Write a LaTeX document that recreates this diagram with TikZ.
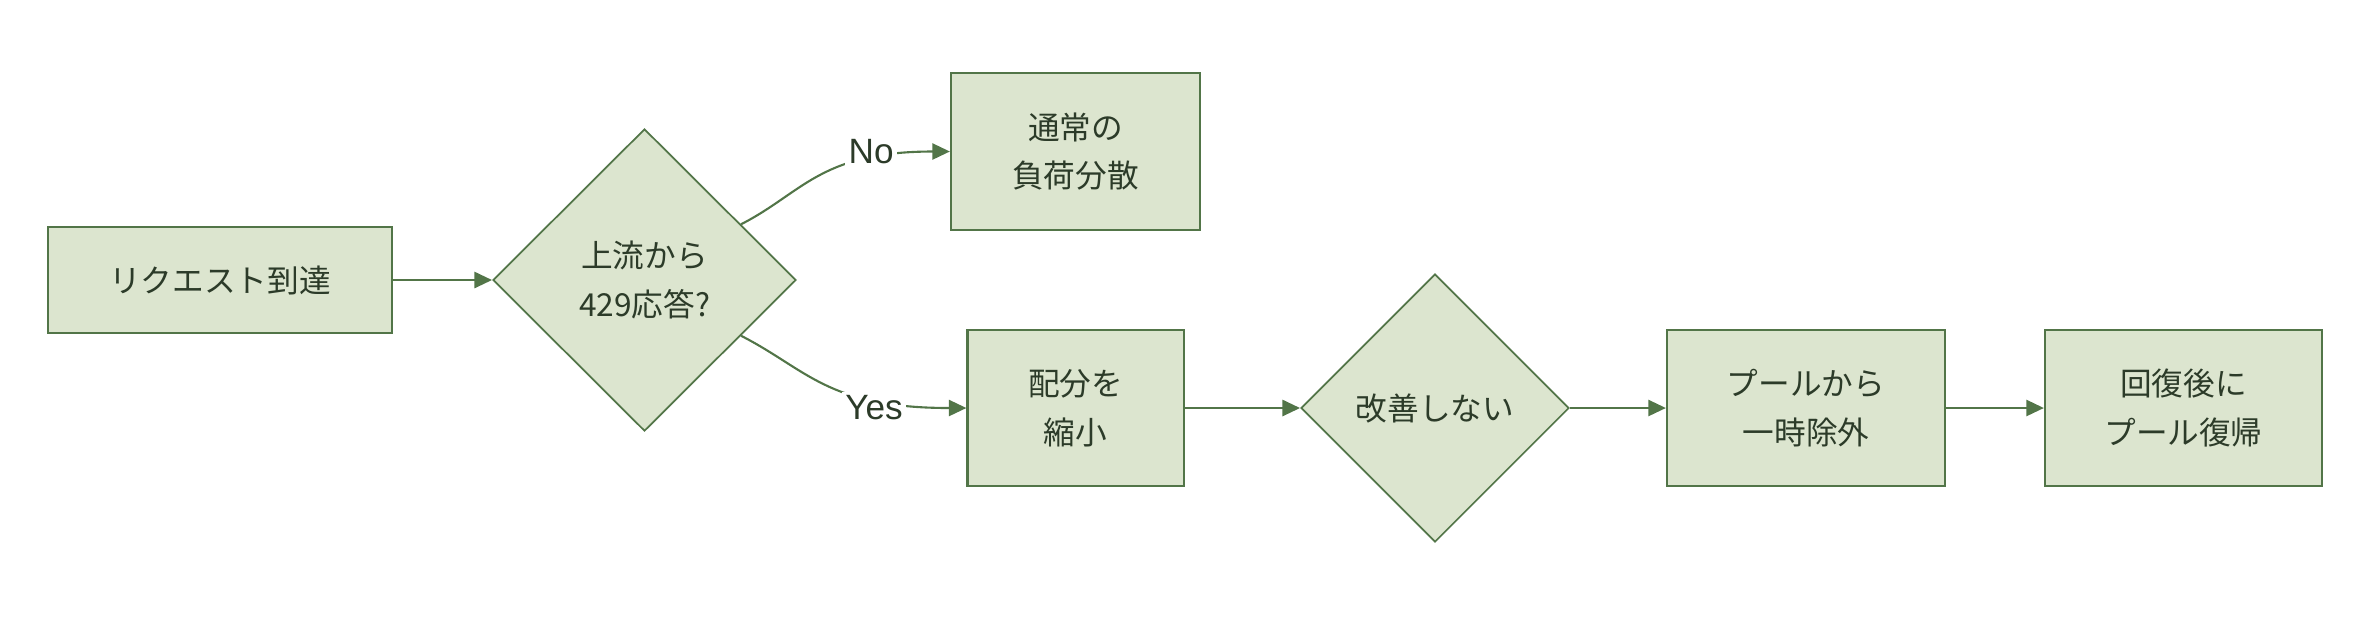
\documentclass[tikz,border=0pt]{standalone}
\usepackage{fontspec}
\setmainfont{Noto Sans CJK JP}
\newfontfamily\labelfont{Liberation Sans}
\usetikzlibrary{shapes.geometric,arrows.meta}
\definecolor{boxfill}{HTML}{DCE5CF}
\definecolor{boxline}{HTML}{527548}
\definecolor{boxtext}{HTML}{2C3B29}

\begin{document}
\begin{tikzpicture}[x=0.01cm, y=-0.01cm]
	\useasboundingbox (0,0) rectangle (2372,620);
	\tikzstyle{box} = [rectangle, draw=boxline, fill=boxfill, line width=0.6pt, text=boxtext, align=center, font=\fontsize{9}{13.9}\selectfont, inner sep=0pt]
	\tikzstyle{decision} = [diamond, draw=boxline, fill=boxfill, line width=0.5pt, text=boxtext, align=center, font=\fontsize{9}{13.9}\selectfont, inner sep=0pt]
	\tikzstyle{answer} = [fill=white, text=boxtext, font=\labelfont\fontsize{10}{12}\selectfont, inner sep=1pt]
	\tikzstyle{flow} = [draw=boxline, line width=0.6pt, -{Triangle[length=5pt,width=4.6pt]}]
	\node[box, minimum width=3.44cm, minimum height=1.06cm] (Request) at (220, 280) {リクエスト到達};
	\node[decision, minimum width=3.03cm, minimum height=3.02cm] (Check429) at (644.5, 280) {上流から\\429応答?};
	\node[box, minimum width=2.49cm, minimum height=1.57cm] (Normal) at (1075.5, 151.5) {通常の\\負荷分散};
	\node[box, minimum width=2.16cm, minimum height=1.56cm] (Shrink) at (1075.5, 408) {配分を\\縮小};
	\node[decision, minimum width=2.68cm, minimum height=2.68cm] (Improve) at (1435, 408) {改善しない};
	\node[box, minimum width=2.78cm, minimum height=1.56cm] (Exclude) at (1806, 408) {プールから\\一時除外};
	\node[box, minimum width=2.77cm, minimum height=1.56cm] (Restore) at (2183.5, 408) {回復後に\\プール復帰};
	\draw [flow] (Request) -- (Check429);
	\draw [flow] (Check429.30) to[out=27, in=180, out looseness=0.8, in looseness=1.5] node[answer, pos=0.75, yshift=2pt] {No} (Normal.west);
	\draw [flow] (Check429.-30) to[out=-27, in=180, out looseness=0.8, in looseness=1.5] node[answer, pos=0.72, yshift=-2.3pt] {Yes} (Shrink.west);
	\draw [flow] (Shrink) -- (Improve);
	\draw [flow] (Improve) -- (Exclude);
	\draw [flow] (Exclude) -- (Restore);
\end{tikzpicture}
\end{document}
